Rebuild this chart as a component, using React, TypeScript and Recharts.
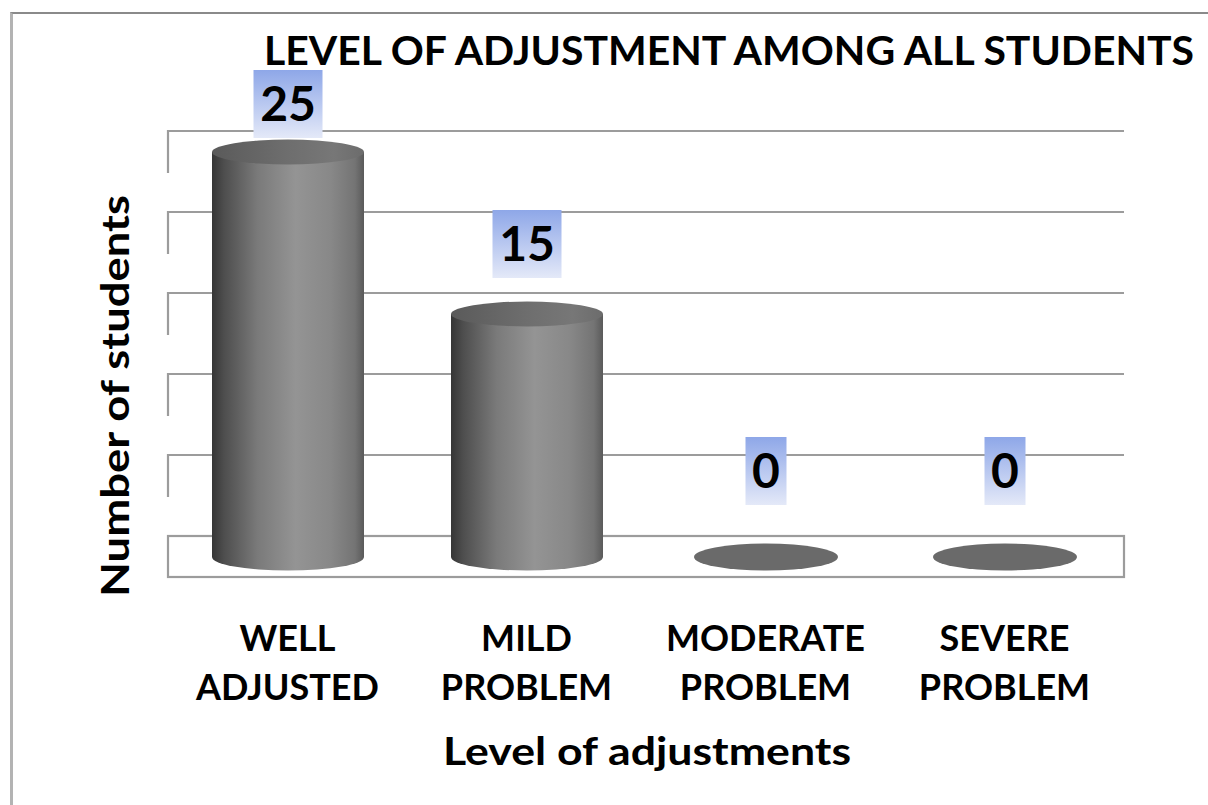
import React from "react";
import { BarChart, Bar, XAxis, YAxis, CartesianGrid, LabelList } from "recharts";

const categories = ["WELL ADJUSTED", "MILD PROBLEM", "MODERATE PROBLEM", "SEVERE PROBLEM"];
const values = [25, 15, 0, 0];
const yTicks = [0, 5, 10, 15, 20, 25];
const title = "LEVEL OF ADJUSTMENT AMONG ALL STUDENTS";
const xTitle = "Level of adjustments";
const yTitle = "Number of students";

const data = categories.map((c, i) => ({ name: c, value: values[i] }));

const W = 1208;
const H = 805;
const XAXIS_H = 100;
const MARGIN = { top: 71, right: 84, left: 168, bottom: 148 };
const PLOT_BOTTOM = H - MARGIN.bottom - XAXIS_H;
const BACK_SHIFT = 21;
const DEPTH = 41;
const RY = 12.5;
const FONT = "Lato, 'Open Sans', sans-serif";
const GRID = "#9c9c9c";

const GridLine = (p: any) => {
  const { x1, x2, y1 } = p;
  if (y1 < MARGIN.top + 5) return <g key={p.key} />;
  const yb = y1 - BACK_SHIFT;
  if (Math.abs(y1 - PLOT_BOTTOM) < 1) {
    return (
      <rect key={p.key} x={x1} y={yb} width={x2 - x1} height={DEPTH} fill="none" stroke={GRID} strokeWidth={2.2} />
    );
  }
  return (
    <path
      key={p.key}
      d={`M${x1},${yb + DEPTH + 1} L${x1},${yb} L${x2},${yb}`}
      fill="none"
      stroke={GRID}
      strokeWidth={2.2}
    />
  );
};

const Cylinder = (p: any) => {
  const { x, y, width, height } = p;
  const cx = x + width / 2;
  const rx = width / 2;
  if (!height || height < 0.5) {
    return <ellipse cx={cx} cy={y} rx={rx - 4} ry={RY + 1} fill="#6a6a6a" />;
  }
  const bottom = y + height;
  return (
    <g>
      <path
        d={`M${x},${y} L${x},${bottom} A${rx},${RY + 1} 0 0 0 ${x + width},${bottom} L${x + width},${y} Z`}
        fill="url(#cylBody)"
      />
      <ellipse cx={cx} cy={y} rx={rx} ry={RY} fill="url(#cylTop)" />
    </g>
  );
};

const ValueLabel = (p: any) => {
  const { x, y, width, value } = p;
  const v = Number(value);
  const cx = x + width / 2;
  const ellTop = y - RY;
  const gap = 39.5 - 0.3867 * v - 0.04533 * v * v;
  const boxBottom = ellTop - gap;
  const boxH = 68;
  const txt = String(value);
  const boxW = txt.length * 28 + 13;
  return (
    <g>
      <rect x={cx - boxW / 2} y={boxBottom - boxH} width={boxW} height={boxH} fill="url(#lblGrad)" />
      <text
        x={cx}
        y={boxBottom - boxH / 2 + 17}
        textAnchor="middle"
        fontFamily={FONT}
        fontWeight={700}
        fontSize={48}
        fill="#000"
      >
        {txt}
      </text>
    </g>
  );
};

const XTick = (p: any) => {
  const { x, y, payload } = p;
  const words = String(payload.value).split(" ");
  return (
    <text x={x} y={y} textAnchor="middle" fontFamily={FONT} fontWeight={700} fontSize={36} fill="#000">
      <tspan x={x} dy={94}>{words[0]}</tspan>
      <tspan x={x} dy={49}>{words.slice(1).join(" ")}</tspan>
    </text>
  );
};

export default function App() {
  return (
    <div style={{ position: "absolute", left: 0, top: 0, width: W, height: H, background: "#fff", overflow: "hidden" }}>
      <div
        style={{
          position: "absolute",
          left: 10,
          top: 12,
          width: W,
          height: H,
          borderTop: "2px solid #8a8a8a",
          borderLeft: "3px solid #b3b3b3",
        }}
      />
      <div style={{ position: "absolute", left: 0, top: 0 }}>
        <BarChart width={W} height={H} data={data} margin={MARGIN}>
          <defs>
            <linearGradient id="cylBody" x1="0" y1="0" x2="1" y2="0">
              <stop offset="0%" stopColor="#363636" />
              <stop offset="8%" stopColor="#4e4e4e" />
              <stop offset="30%" stopColor="#7a7a7a" />
              <stop offset="55%" stopColor="#949494" />
              <stop offset="78%" stopColor="#888888" />
              <stop offset="94%" stopColor="#747474" />
              <stop offset="100%" stopColor="#5a5a5a" />
            </linearGradient>
            <linearGradient id="cylTop" x1="0" y1="0" x2="1" y2="0">
              <stop offset="0%" stopColor="#5a5a5a" />
              <stop offset="50%" stopColor="#6e6e6e" />
              <stop offset="80%" stopColor="#777777" />
              <stop offset="100%" stopColor="#6c6c6c" />
            </linearGradient>
            <linearGradient id="lblGrad" x1="0" y1="0" x2="0" y2="1">
              <stop offset="0%" stopColor="#8ea7e8" />
              <stop offset="100%" stopColor="#e4e9f8" />
            </linearGradient>
          </defs>
          <CartesianGrid vertical={false} horizontal={GridLine as any} />
          <XAxis
            dataKey="name"
            axisLine={false}
            tickLine={false}
            tickSize={0}
            tickMargin={0}
            height={XAXIS_H}
            interval={0}
            tick={<XTick />}
          />
          <YAxis hide width={0} domain={[0, 30]} ticks={yTicks} />
          <Bar dataKey="value" barSize={152} shape={<Cylinder />} isAnimationActive={false}>
            <LabelList dataKey="value" content={<ValueLabel />} />
          </Bar>
        </BarChart>
      </div>
      <svg width={W} height={H} style={{ position: "absolute", left: 0, top: 0, pointerEvents: "none" }}>
        <text
          x={729}
          y={65}
          textAnchor="middle"
          fontFamily={FONT}
          fontWeight={700}
          fontSize={40}
          textLength={930}
          lengthAdjust="spacingAndGlyphs"
          fill="#000"
        >
          {title}
        </text>
        <text
          x={647}
          y={765}
          textAnchor="middle"
          fontFamily={FONT}
          fontWeight={700}
          fontSize={39}
          textLength={408}
          lengthAdjust="spacingAndGlyphs"
          fill="#000"
        >
          {xTitle}
        </text>
        <text
          x={0}
          y={0}
          transform="translate(129,396) rotate(-90)"
          textAnchor="middle"
          fontFamily={FONT}
          fontWeight={700}
          fontSize={39}
          textLength={402}
          lengthAdjust="spacingAndGlyphs"
          fill="#000"
        >
          {yTitle}
        </text>
      </svg>
    </div>
  );
}
